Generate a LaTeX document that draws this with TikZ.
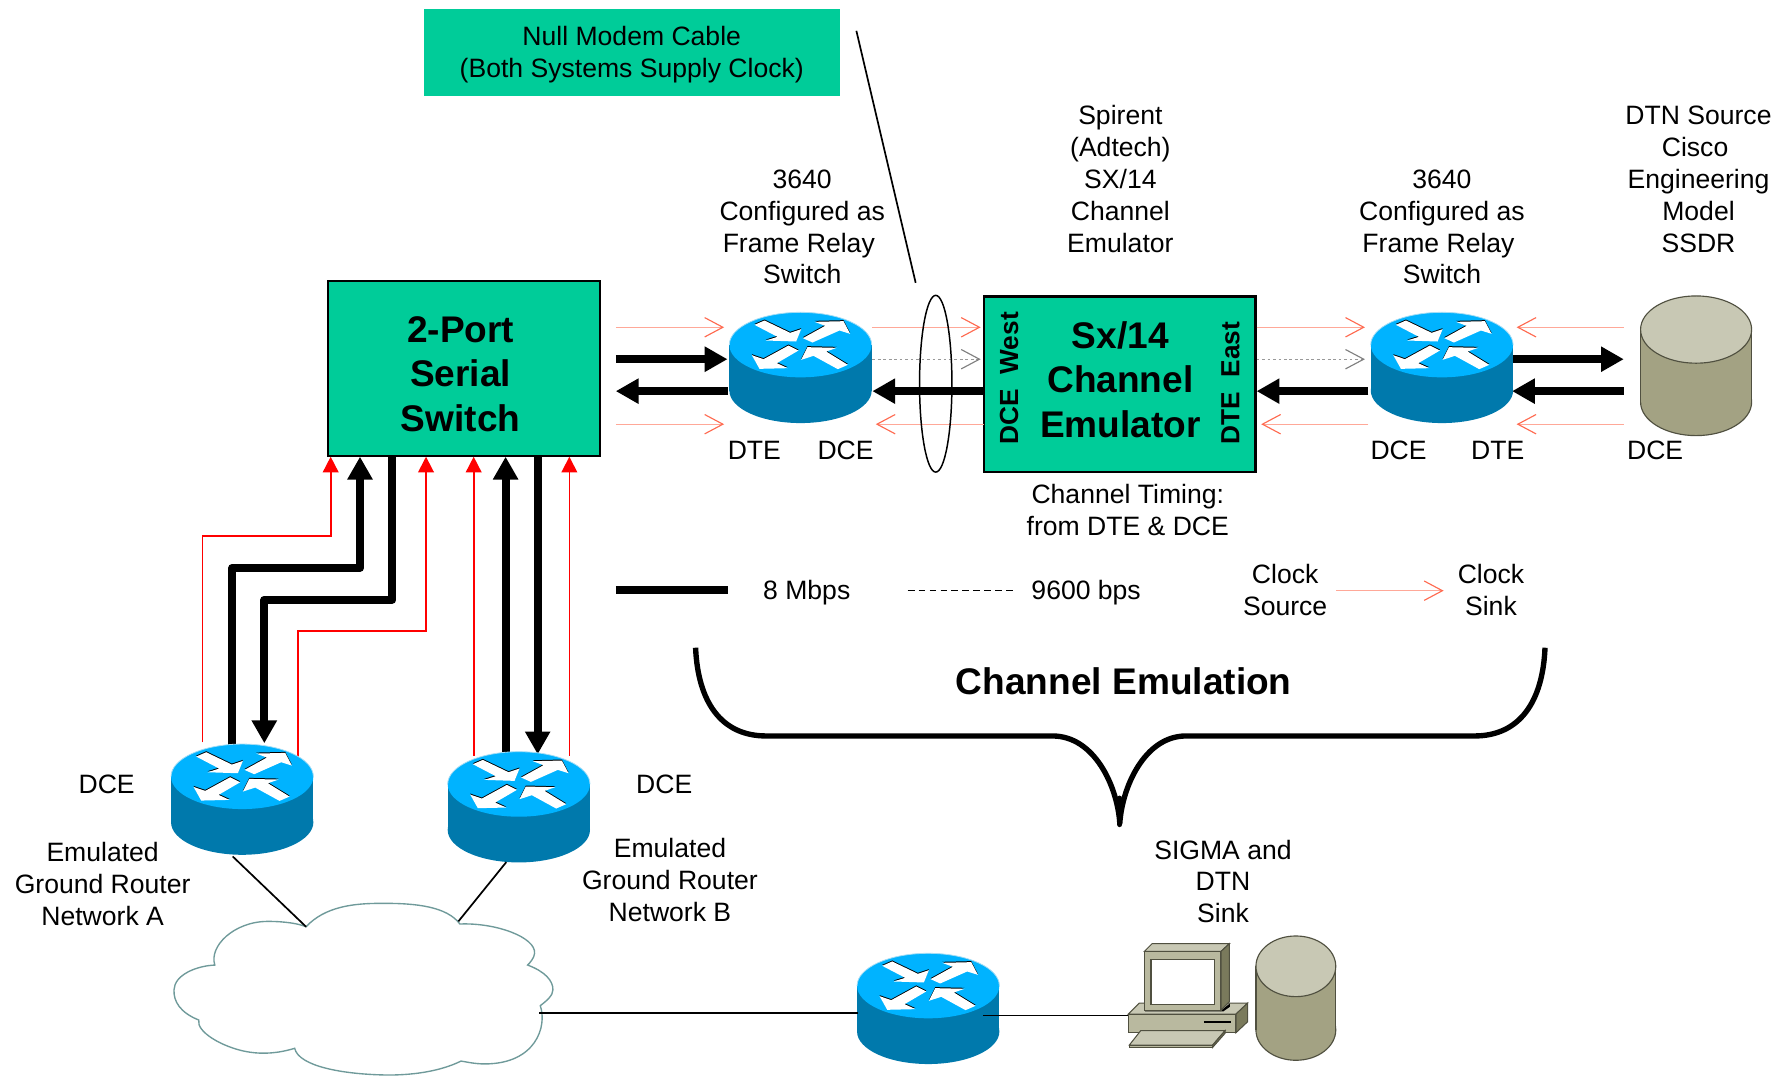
\documentclass[tikz,border=0pt]{standalone}
\usepackage{fontspec}
\setmainfont{Liberation Sans}
\usetikzlibrary{arrows.meta}
\definecolor{swgreen}{HTML}{00CC99}
\definecolor{rtop}{HTML}{00B3FF}
\definecolor{rside}{HTML}{0079AC}
\definecolor{redge}{HTML}{A5DDF5}
\definecolor{salmonline}{HTML}{FFA898}
\definecolor{salmontip}{HTML}{FF6A50}
\definecolor{khtop}{HTML}{C8C8B4}
\definecolor{khbody}{HTML}{A3A283}
\definecolor{khfront}{HTML}{B9B99F}
\definecolor{khside}{HTML}{7A7A5C}
\definecolor{khedge}{HTML}{505040}
\definecolor{cloudedge}{HTML}{6F9A9A}
\newcommand{\drumshape}[5]{%
  \draw[khedge,line width=.5pt,fill=khbody] (#1,#2+#5) ellipse [x radius=#3,y radius=#4];
  \fill[khbody] (#1-#3,#2) rectangle (#1+#3,#2+#5);
  \draw[khedge,line width=.5pt] (#1-#3,#2) -- (#1-#3,#2+#5) (#1+#3,#2) -- (#1+#3,#2+#5);
  \draw[khedge,line width=.5pt,fill=khtop] (#1,#2) ellipse [x radius=#3,y radius=#4];
}
\tikzset{
  txt/.style={font=\fontsize{11.65}{14}\selectfont,align=center,inner sep=0pt,text=black},
  bigtxt/.style={font=\fontsize{16.25}{19.6}\selectfont\bfseries,align=center,inner sep=0pt,text=black},
  sidetxt/.style={font=\fontsize{11.5}{14}\selectfont\bfseries,inner sep=0pt,rotate=90,anchor=west},
  greenbox/.style={draw=black,line width=.9pt,fill=swgreen,inner sep=0pt,minimum width=119pt,minimum height=77pt},
  thick arrow/.style={line width=3.5pt,draw=black,-{Triangle[length=10pt,width=10.5pt]}},
  thick line/.style={line width=3.5pt,draw=black,line join=round},
  clock/.style={line width=.5pt,draw=salmonline,-{Straight Barb[length=8pt,width=8.5pt,line width=.5pt,color=salmontip]}},
  slow/.style={line width=.6pt,draw=gray!80,dash pattern=on 1.2pt off 1.2pt,-{Straight Barb[length=8pt,width=8.5pt,line width=.5pt,color=gray]}},
  redline/.style={line width=.75pt,draw=red,-{Triangle[length=6.9pt,width=6.9pt,color=red]}},
  thin link/.style={line width=.75pt,draw=black},
  ciscorouter/.pic={
    \fill[rside] (0,40.1) ellipse [x radius=62.4,y radius=28.5];
    \fill[rside] (-62.4,0) rectangle (62.4,40.1);
    \fill[rtop] (0,0) ellipse [x radius=62.4,y radius=28.5];
    \draw[redge,line width=.35pt] (-62.4,0) arc [start angle=180,end angle=360,x radius=62.4,y radius=28.5];
    \begin{scope}[x=.14615pt,y=-.14615pt,shift={(-241,-135)}]
      \foreach \fillc/\dy in {black/-3,white/0}{
      \fill[\fillc,shift={(0,\dy)}] (103,75) -- (133,62) -- (210,99) -- (243,88) -- (228,125) -- (137,122) -- (172,111) -- cycle;
      \fill[\fillc,shift={(0,\dy)}] (248,115) -- (315,78) -- (283,66) -- (370,64) -- (390,102) -- (358,92) -- (277,128) -- cycle;
      \fill[\fillc,shift={(0,\dy)}] (205,137) -- (130,178) -- (95,166) -- (118,207) -- (203,205) -- (170,190) -- (235,152) -- cycle;
      \fill[\fillc,shift={(0,\dy)}] (243,180) -- (262,142) -- (350,144) -- (318,155) -- (383,195) -- (353,208) -- (280,168) -- cycle;
      }
    \end{scope}
  }
}
\begin{document}
\begin{tikzpicture}[x=.5pt,y=-.5pt]
\useasboundingbox (0,0) rectangle (1568,944.5);

% boxes
\node[fill=swgreen,inner sep=0pt,minimum width=182.5pt,minimum height=38pt] (note) at (554.5,46) {};
\node[txt] (notet) at (554,47.5) {Null Modem Cable\\(Both Systems Supply Clock)};
\node[greenbox] (sw) at (407,323) {};
\node[bigtxt] (swt) at (404,328) {2-Port\\Serial\\Switch};
\node[greenbox] (em) at (982,337) {};
\node[bigtxt] (emt) at (982.5,333) {Sx/14\\Channel\\Emulator};
\node[sidetxt] (emw) at (885,390) {DCE~~West};
\node[sidetxt] (eme) at (1079,390) {DTE~~East};

% end points
\coordinate (a1) at (540,315); \coordinate (a2) at (638,315);
\coordinate (b1) at (638,343); \coordinate (b2) at (540,343);
\coordinate (c1) at (863,343); \coordinate (c2) at (765,343);
\coordinate (d1) at (1200,343); \coordinate (d2) at (1102,343);
\coordinate (e1) at (1326,315); \coordinate (e2) at (1424,315);
\coordinate (f1) at (1424,343); \coordinate (f2) at (1326,343);
\draw[thick arrow] (a1) -- (a2);
\draw[thick arrow] (b1) -- (b2);
\draw[thick arrow] (c1) -- (c2);
\draw[thick arrow] (d1) -- (d2);
\draw[thick arrow] (e1) -- (e2);
\draw[thick arrow] (f1) -- (f2);

\coordinate (g1) at (540,287); \coordinate (g2) at (635,287);
\coordinate (h1) at (540,372); \coordinate (h2) at (635,372);
\coordinate (i1) at (765,287); \coordinate (i2) at (860,287);
\coordinate (j1) at (765,315); \coordinate (j2) at (860,315);
\coordinate (k1) at (863,372); \coordinate (k2) at (768,372);
\coordinate (l1) at (1102,287); \coordinate (l2) at (1197,287);
\coordinate (m1) at (1102,315); \coordinate (m2) at (1197,315);
\coordinate (n1) at (1200,372); \coordinate (n2) at (1106,372);
\coordinate (o1) at (1424,287); \coordinate (o2) at (1330,287);
\coordinate (p1) at (1424,372); \coordinate (p2) at (1330,372);
\draw[clock] (g1) -- (g2);
\draw[clock] (h1) -- (h2);
\draw[clock] (i1) -- (i2);
\draw[slow] (j1) -- (j2);
\draw[clock] (k1) -- (k2);
\draw[clock] (l1) -- (l2);
\draw[slow] (m1) -- (m2);
\draw[clock] (n1) -- (n2);
\draw[clock] (o1) -- (o2);
\draw[clock] (p1) -- (p2);

% links below the serial switch
\coordinate (r1s) at (177.7,651); \coordinate (r1e) at (290,400.5);
\coordinate (r2s) at (261.6,666); \coordinate (r2e) at (373.6,400.5);
\coordinate (r3s) at (415.4,662.7); \coordinate (r3e) at (415.4,400.5);
\coordinate (r4s) at (499.3,662.7); \coordinate (r4e) at (499.3,400.5);
\draw[redline] (r1s) |- (290,469.8) -- (r1e);
\draw[redline] (r2s) |- (373.6,553.4) -- (r2e);
\draw[redline] (r3s) -- (r3e);
\draw[redline] (r4s) -- (r4e);

\coordinate (t1s) at (203.7,653); \coordinate (t1e) at (315.7,400.5);
\coordinate (t2s) at (344,400); \coordinate (t2e) at (231.8,651.8);
\coordinate (t3s) at (443.4,662); \coordinate (t3e) at (443.4,400.5);
\coordinate (t4s) at (471.5,400); \coordinate (t4e) at (471.5,661.5);
\draw[thick arrow,line join=round] (t1s) |- (315.7,498) -- (t1e);
\draw[thick arrow,line join=round] (t2s) |- (231.8,526) -- (t2e);
\draw[thick arrow] (t3s) -- (t3e);
\draw[thick arrow] (t4s) -- (t4e);

% routers and storage
\pic (r1) at (702,302.4) {ciscorouter};
\pic (r2) at (1264.5,302.4) {ciscorouter};
\pic (r3) at (212.4,681) {ciscorouter};
\pic (r4) at (455,687.7) {ciscorouter};
\pic (r5) at (814,864.5) {ciscorouter};
\drumshape{1487.4}{289}{48.7}{29.5}{63.5}
\drumshape{1136.4}{847.4}{35}{26.6}{55.8}

% ellipse around the null modem link
\draw[line width=.65pt] (820.6,336.5) ellipse [x radius=14.2,y radius=77.5];

% cloud
\draw[draw=cloudedge,fill=white,line width=.6pt,line join=miter]
 (268.4,812.7) .. controls (285,795) and (310,792) .. (335.4,792.2) .. controls (365,792) and (392,795) .. (403.3,810.3)
 .. controls (435,809) and (470,822) .. (468.8,836) .. controls (468.5,840) and (465,844) .. (462.7,846.3)
 .. controls (478,852) and (485,860) .. (484.9,868) .. controls (485,873) and (479,878) .. (473.8,881.9)
 .. controls (480,900) and (470,933) .. (425,933) .. controls (416,933) and (408,931) .. (404.3,930.5)
 .. controls (385,940) and (360,943) .. (338,942.7) .. controls (300,942) and (262,935) .. (258.4,919.3)
 .. controls (240,925) and (225,924) .. (215,922) .. controls (195,918) and (172,905) .. (174.3,894.5)
 .. controls (158,888) and (152,878) .. (152.6,868) .. controls (153,855) and (172,847) .. (188.4,846.3)
 .. controls (183,830) and (205,808) .. (235,808) .. controls (250,808) and (262,810) .. (268.4,812.7) -- cycle;

% computer
\begin{scope}[x=.14615pt,y=-.14615pt,shift={(460.4pt,-394.65pt)},draw=khedge,line width=.45pt]
  \filldraw[fill=khtop] (235,342) -- (268,309) -- (593,309) -- (558,342) -- cycle;
  \filldraw[fill=khfront] (235,342) rectangle (558,398);
  \filldraw[fill=khside] (558,342) -- (593,309) -- (593,365) -- (558,398) -- cycle;
  \draw[black,line width=.7pt] (462,366) -- (543,366);
  \filldraw[fill=khtop] (238,435) -- (272,392) -- (525,392) -- (488,435) -- cycle;
  \filldraw[fill=khfront] (238,435) rectangle (488,442);
  \filldraw[fill=khside] (488,435) -- (525,392) -- (525,400) -- (488,442) -- cycle;
  \fill[black] (285,330) -- (515,330) -- (540,310) -- (540,320) -- (520,334) -- (285,334) -- cycle;
  \filldraw[fill=khfront] (283,154) rectangle (513,330);
  \filldraw[fill=khtop] (283,154) -- (306,131) -- (538,131) -- (513,154) -- cycle;
  \filldraw[fill=khside] (513,154) -- (538,131) -- (538,305) -- (513,330) -- cycle;
  \filldraw[fill=white] (303,178) rectangle (493,312);
\end{scope}

% thin links
\coordinate (u1) at (751,27); \coordinate (u2) at (803,248);
\coordinate (v1) at (204,751); \coordinate (v2) at (268.4,812.7);
\coordinate (w1) at (444,756); \coordinate (w2) at (402,808);
\coordinate (x1) at (473,888); \coordinate (x2) at (752,888);
\coordinate (y1) at (862,890.5); \coordinate (y2) at (989,890.5);
\draw[thin link] (u1) -- (u2);
\draw[thin link] (v1) -- (v2);
\draw[thin link] (w1) -- (w2);
\draw[thin link,line width=.9pt] (x1) -- (x2);
\draw[thin link] (y1) -- (y2);

% legend
\coordinate (l8a) at (540,517); \coordinate (l8b) at (638,517);
\coordinate (l9a) at (796,518); \coordinate (l9b) at (890,518);
\coordinate (lca) at (1172,518); \coordinate (lcb) at (1266,518);
\draw[thick line] (l8a) -- (l8b);
\draw[line width=.5pt,dash pattern=on 3pt off 1.8pt] (l9a) -- (l9b);
\draw[clock] (lca) -- (lcb);

% brace
\draw[line width=2.35pt,line join=round]
 (610,568) .. controls (612,615) and (632,645.4) .. (672,645.4) -- (923,645.4)
 .. controls (960,645.4) and (980,690) .. (982,722) .. controls (984,690) and (1004,645.4) .. (1040,645.4)
 -- (1293,645.4) .. controls (1333,645.4) and (1353,615) .. (1354.9,568);
\coordinate (bt) at (982,700); \coordinate (bb) at (982,723);
\draw[line width=2.35pt,line cap=round] (bt) -- (bb);

% labels
\node[txt] (t1) at (703.5,199) {3640\\Configured as\\\mbox{Frame Relay\hspace{3pt}}\\Switch};
\node[txt] (t2) at (982.5,157) {Spirent\\(Adtech)\\SX/14\\Channel\\Emulator};
\node[txt] (t3) at (1264.5,199) {3640\\Configured as\\\mbox{Frame Relay\hspace{3pt}}\\Switch};
\node[txt] (t4) at (1489.5,157) {DTN Source\\\mbox{Cisco\hspace{3pt}}\\Engineering\\Model\\SSDR};
\node[txt] (t5) at (661.5,395) {DTE};
\node[txt] (t6) at (741.5,395) {DCE};
\node[txt] (t7) at (1226.5,395) {DCE};
\node[txt] (t8) at (1313.5,395) {DTE};
\node[txt] (t9) at (1451.5,395) {DCE};
\node[txt] (t10) at (989,447.5) {Channel Timing:\\from DTE \& DCE};
\node[txt] (t11) at (707.5,520) {8 Mbps};
\node[txt] (t12) at (952.5,520) {9600 bps};
\node[txt] (t13) at (1127,517) {Clock\\Source};
\node[txt] (t14) at (1307.5,517) {Clock\\Sink};
\node[bigtxt] (t15) at (985.5,597) {Channel Emulation};
\node[txt] (t16) at (93.5,688) {DCE};
\node[txt] (t17) at (582.5,688) {DCE};
\node[txt] (t18) at (90,775) {Emulated\\Ground Router\\Network A};
\node[txt] (t19) at (587.5,772) {Emulated\\Ground Router\\Network B};
\node[txt] (t20) at (1072.5,773) {SIGMA and\\DTN\\Sink};
\end{tikzpicture}
\end{document}
